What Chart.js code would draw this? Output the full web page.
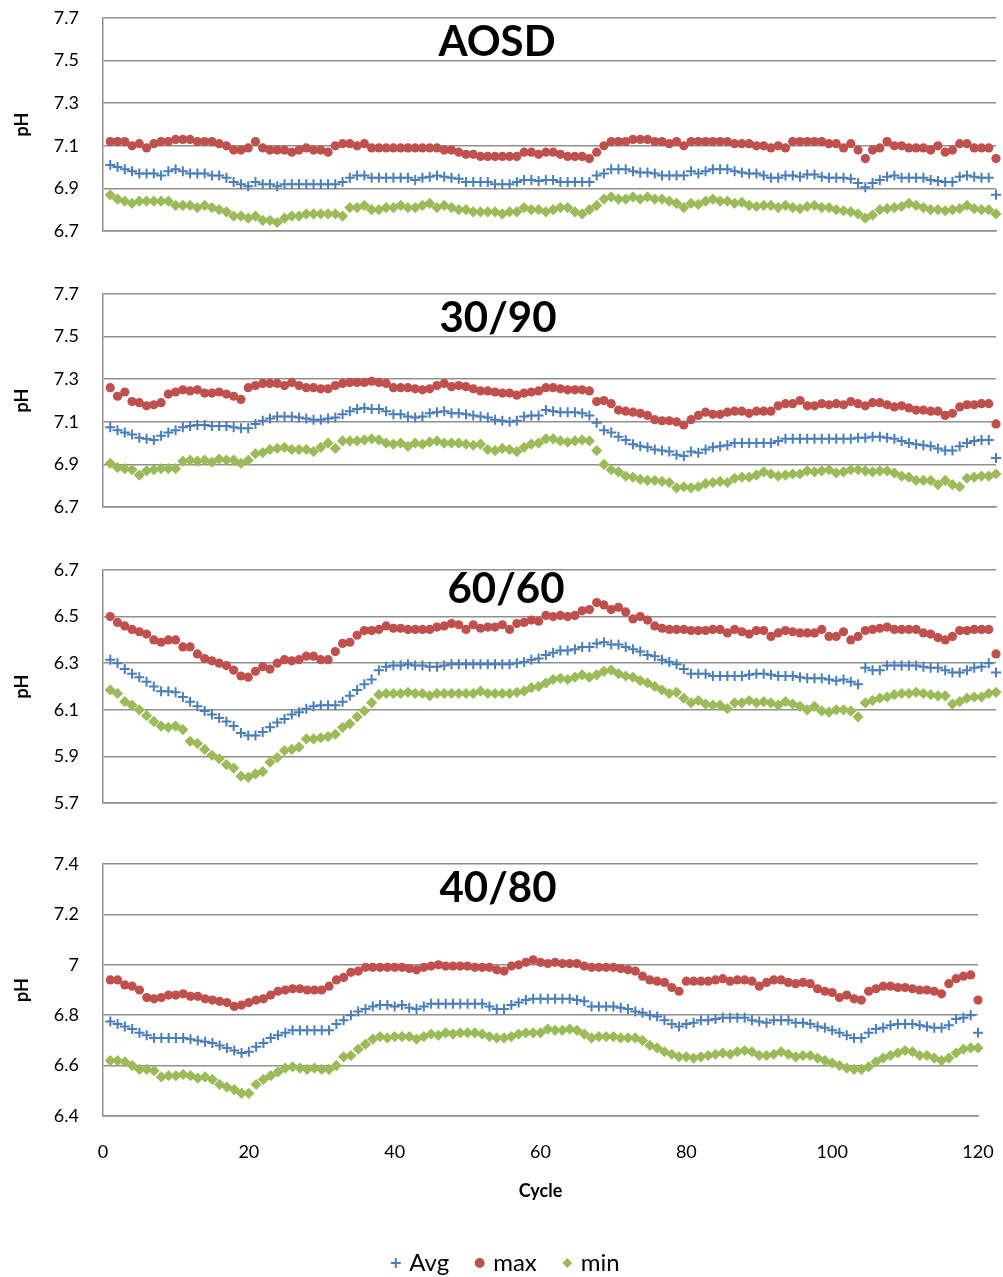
<!DOCTYPE html>
<html lang="en">
<head>
<meta charset="UTF-8">
<title>pH per cycle</title>
<script src="https://cdn.jsdelivr.net/npm/chart.js"></script>
<style>
  body { margin: 0; background: #fff; }
  #wrap { position: relative; width: 1003px; height: 1277px; overflow: hidden; }
  canvas { position: absolute; left: 0; }
  .ttl { position: absolute; font: bold 42px Lato, sans-serif; color: #000; transform: translate(-50%, -50%); white-space: nowrap; z-index: 2; }
</style>
</head>
<body>
<div id="wrap">
  <canvas id="c1" width="1003" height="251" style="top:0px"></canvas>
  <canvas id="c2" width="1003" height="257" style="top:270px"></canvas>
  <canvas id="c3" width="1003" height="277" style="top:546px"></canvas>
  <canvas id="c4" width="1039" height="445" style="top:840px"></canvas>
  <div class="ttl" style="left:497px;top:40px">AOSD</div>
  <div class="ttl" style="left:498px;top:316px">30/90</div>
  <div class="ttl" style="left:506px;top:587px">60/60</div>
  <div class="ttl" style="left:498px;top:886px">40/80</div>
</div>
<script>
// series names (legend)
const seriesNames = ['Avg', 'max', 'min'];

// AOSD, cycles 1-123
const avgAOSD = [7.01,7.00,6.99,6.98,6.97,6.97,6.97,6.96,6.98,6.99,
  6.98,6.97,6.97,6.97,6.96,6.96,6.95,6.93,6.92,6.91,
  6.93,6.92,6.92,6.91,6.92,6.92,6.92,6.92,6.92,6.92,
  6.92,6.92,6.93,6.95,6.96,6.96,6.95,6.95,6.95,6.95,
  6.95,6.95,6.94,6.95,6.955,6.96,6.955,6.95,6.945,6.93,
  6.93,6.93,6.93,6.92,6.92,6.92,6.93,6.94,6.94,6.935,
  6.94,6.94,6.93,6.93,6.93,6.93,6.93,6.96,6.97,6.99,
  6.99,6.99,6.98,6.975,6.975,6.97,6.96,6.96,6.96,6.96,
  6.98,6.97,6.98,6.99,6.99,6.99,6.98,6.975,6.97,6.97,
  6.96,6.95,6.95,6.96,6.96,6.955,6.965,6.965,6.955,6.95,
  6.95,6.95,6.945,6.925,6.905,6.925,6.94,6.955,6.96,6.95,
  6.95,6.95,6.95,6.94,6.935,6.93,6.93,6.955,6.96,6.955,
  6.95,6.95,6.87];
const maxAOSD = [7.12,7.12,7.12,7.10,7.11,7.09,7.11,7.12,7.12,7.13,
  7.13,7.13,7.12,7.12,7.12,7.11,7.10,7.08,7.08,7.09,
  7.12,7.09,7.08,7.08,7.08,7.07,7.08,7.09,7.08,7.08,
  7.07,7.10,7.11,7.11,7.10,7.11,7.09,7.09,7.09,7.09,
  7.09,7.09,7.09,7.09,7.09,7.09,7.08,7.08,7.07,7.06,
  7.06,7.05,7.05,7.05,7.05,7.05,7.05,7.07,7.07,7.06,
  7.07,7.07,7.06,7.05,7.05,7.05,7.04,7.07,7.10,7.12,
  7.12,7.12,7.13,7.13,7.13,7.12,7.12,7.11,7.12,7.10,
  7.12,7.12,7.12,7.12,7.12,7.12,7.11,7.11,7.11,7.10,
  7.10,7.09,7.10,7.09,7.12,7.12,7.12,7.12,7.12,7.11,
  7.11,7.09,7.11,7.08,7.04,7.08,7.09,7.12,7.10,7.10,
  7.09,7.09,7.09,7.08,7.10,7.07,7.08,7.11,7.11,7.09,
  7.09,7.09,7.04];
const minAOSD = [6.87,6.85,6.84,6.83,6.84,6.84,6.84,6.84,6.84,6.82,
  6.82,6.82,6.81,6.82,6.81,6.80,6.79,6.77,6.77,6.76,
  6.77,6.75,6.75,6.74,6.76,6.77,6.77,6.78,6.78,6.78,
  6.78,6.78,6.77,6.81,6.81,6.82,6.80,6.80,6.81,6.81,
  6.82,6.81,6.81,6.82,6.83,6.81,6.82,6.81,6.80,6.80,
  6.79,6.79,6.79,6.79,6.78,6.79,6.79,6.81,6.80,6.80,
  6.79,6.80,6.81,6.81,6.79,6.78,6.80,6.82,6.85,6.86,
  6.85,6.85,6.86,6.85,6.86,6.85,6.85,6.84,6.83,6.81,
  6.83,6.825,6.84,6.85,6.84,6.84,6.83,6.835,6.82,6.815,
  6.82,6.82,6.81,6.82,6.81,6.805,6.815,6.82,6.81,6.81,
  6.80,6.795,6.79,6.78,6.76,6.775,6.80,6.805,6.81,6.815,
  6.83,6.82,6.81,6.80,6.80,6.795,6.80,6.805,6.82,6.805,
  6.80,6.80,6.78];

// 30/90, cycles 1-123
const avg3090 = [7.075,7.06,7.05,7.04,7.025,7.02,7.015,7.035,7.05,7.06,
  7.075,7.08,7.085,7.085,7.08,7.08,7.08,7.075,7.07,7.07,
  7.09,7.105,7.115,7.125,7.125,7.125,7.12,7.115,7.11,7.11,
  7.115,7.12,7.135,7.15,7.16,7.165,7.16,7.16,7.15,7.135,
  7.135,7.125,7.12,7.125,7.14,7.145,7.15,7.14,7.14,7.135,
  7.13,7.125,7.12,7.11,7.105,7.10,7.105,7.125,7.13,7.13,
  7.155,7.15,7.145,7.145,7.145,7.14,7.13,7.095,7.06,7.05,
  7.03,7.015,6.995,6.985,6.98,6.97,6.965,6.96,6.945,6.94,
  6.96,6.955,6.97,6.98,6.985,6.99,7.0,7.0,7.0,7.0,
  7.0,7.0,7.01,7.02,7.02,7.02,7.02,7.02,7.02,7.02,
  7.02,7.02,7.02,7.025,7.025,7.03,7.03,7.025,7.02,7.01,
  7.0,6.995,6.99,6.985,6.975,6.965,6.965,6.985,7.0,7.01,
  7.015,7.015,6.93];
const max3090 = [7.26,7.22,7.24,7.195,7.19,7.175,7.18,7.19,7.23,7.24,
  7.25,7.245,7.25,7.235,7.235,7.24,7.23,7.22,7.205,7.26,
  7.27,7.28,7.28,7.28,7.27,7.285,7.27,7.26,7.26,7.255,
  7.255,7.27,7.28,7.285,7.285,7.285,7.29,7.285,7.28,7.26,
  7.26,7.26,7.255,7.25,7.255,7.27,7.28,7.265,7.27,7.265,
  7.255,7.245,7.245,7.24,7.235,7.235,7.225,7.235,7.24,7.245,
  7.26,7.26,7.255,7.25,7.25,7.25,7.245,7.195,7.20,7.185,
  7.155,7.15,7.145,7.14,7.13,7.11,7.105,7.105,7.10,7.085,
  7.11,7.13,7.145,7.135,7.135,7.145,7.15,7.15,7.14,7.15,
  7.15,7.15,7.175,7.185,7.185,7.20,7.175,7.175,7.185,7.18,
  7.185,7.18,7.195,7.185,7.175,7.19,7.19,7.18,7.17,7.175,
  7.165,7.155,7.155,7.15,7.15,7.13,7.14,7.17,7.18,7.18,
  7.185,7.185,7.09];
const min3090 = [6.905,6.885,6.88,6.875,6.85,6.87,6.875,6.88,6.88,6.88,
  6.915,6.92,6.915,6.92,6.91,6.925,6.92,6.92,6.905,6.92,
  6.95,6.955,6.97,6.975,6.98,6.97,6.97,6.97,6.96,6.98,
  7.0,6.975,7.01,7.01,7.01,7.015,7.02,7.015,7.0,6.995,
  7.0,6.985,7.0,6.995,7.005,7.01,7.0,7.0,7.0,6.995,
  6.99,6.995,6.97,6.965,6.975,6.97,6.96,6.98,6.995,7.0,
  7.02,7.02,7.01,7.005,7.01,7.015,7.01,6.965,6.90,6.875,
  6.865,6.845,6.84,6.83,6.825,6.825,6.82,6.815,6.79,6.795,
  6.79,6.795,6.81,6.815,6.82,6.815,6.835,6.84,6.84,6.85,
  6.865,6.855,6.845,6.85,6.855,6.855,6.87,6.865,6.87,6.875,
  6.86,6.865,6.875,6.875,6.87,6.865,6.87,6.87,6.86,6.845,
  6.84,6.825,6.825,6.825,6.805,6.825,6.805,6.795,6.835,6.84,
  6.845,6.845,6.855];

// 60/60, cycles 1-123
const avg6060 = [6.315,6.30,6.275,6.255,6.24,6.22,6.20,6.18,6.18,6.175,
  6.155,6.135,6.115,6.095,6.08,6.065,6.05,6.03,6.00,5.99,
  5.99,6.005,6.025,6.045,6.06,6.08,6.09,6.105,6.115,6.12,
  6.12,6.12,6.135,6.16,6.185,6.21,6.23,6.27,6.285,6.29,
  6.29,6.295,6.29,6.29,6.285,6.285,6.29,6.295,6.295,6.295,
  6.295,6.295,6.295,6.295,6.295,6.295,6.30,6.305,6.315,6.32,
  6.335,6.345,6.355,6.355,6.36,6.37,6.37,6.385,6.39,6.38,
  6.38,6.37,6.36,6.35,6.335,6.33,6.315,6.305,6.295,6.275,
  6.255,6.255,6.255,6.245,6.245,6.245,6.245,6.245,6.25,6.255,
  6.255,6.25,6.245,6.245,6.245,6.24,6.235,6.235,6.235,6.23,
  6.225,6.23,6.22,6.21,6.28,6.27,6.27,6.29,6.29,6.29,
  6.29,6.29,6.285,6.28,6.28,6.27,6.26,6.26,6.27,6.28,
  6.285,6.30,6.26];
const max6060 = [6.50,6.475,6.46,6.445,6.435,6.425,6.40,6.39,6.40,6.40,
  6.37,6.37,6.34,6.32,6.31,6.30,6.29,6.27,6.245,6.24,
  6.265,6.285,6.275,6.30,6.315,6.31,6.315,6.33,6.33,6.315,
  6.315,6.35,6.385,6.39,6.42,6.44,6.44,6.445,6.46,6.45,
  6.45,6.445,6.445,6.445,6.445,6.455,6.46,6.47,6.465,6.445,
  6.465,6.45,6.455,6.455,6.465,6.445,6.47,6.475,6.485,6.48,
  6.505,6.50,6.505,6.50,6.505,6.525,6.53,6.56,6.55,6.53,
  6.54,6.52,6.49,6.50,6.485,6.46,6.45,6.445,6.445,6.445,
  6.44,6.44,6.44,6.445,6.445,6.43,6.445,6.435,6.425,6.44,
  6.44,6.415,6.43,6.44,6.435,6.43,6.43,6.43,6.445,6.415,
  6.415,6.435,6.40,6.415,6.44,6.445,6.45,6.455,6.445,6.445,
  6.445,6.445,6.43,6.425,6.41,6.40,6.415,6.44,6.44,6.445,
  6.445,6.445,6.34];
const min6060 = [6.185,6.17,6.135,6.12,6.10,6.075,6.05,6.03,6.025,6.03,
  6.015,5.965,5.955,5.93,5.905,5.89,5.865,5.85,5.815,5.81,
  5.825,5.835,5.875,5.895,5.925,5.93,5.94,5.975,5.975,5.98,
  5.985,5.995,6.025,6.04,6.07,6.095,6.13,6.165,6.17,6.17,
  6.17,6.175,6.17,6.17,6.16,6.17,6.17,6.17,6.17,6.17,
  6.17,6.18,6.17,6.17,6.17,6.17,6.175,6.18,6.195,6.20,
  6.215,6.23,6.235,6.23,6.24,6.25,6.24,6.25,6.265,6.27,
  6.255,6.245,6.24,6.225,6.215,6.20,6.185,6.17,6.175,6.15,
  6.13,6.14,6.125,6.12,6.12,6.105,6.13,6.13,6.14,6.13,
  6.135,6.13,6.12,6.135,6.125,6.115,6.10,6.115,6.095,6.09,
  6.10,6.10,6.095,6.07,6.13,6.14,6.15,6.155,6.165,6.17,
  6.17,6.175,6.17,6.165,6.16,6.16,6.125,6.135,6.15,6.155,
  6.155,6.17,6.175];

// 40/80, cycles 1-120
const avg4080 = [6.775,6.765,6.755,6.745,6.73,6.72,6.71,6.71,6.71,6.71,
  6.71,6.705,6.70,6.695,6.69,6.68,6.67,6.66,6.65,6.655,
  6.675,6.69,6.71,6.72,6.73,6.74,6.74,6.74,6.74,6.74,
  6.74,6.765,6.78,6.80,6.815,6.825,6.835,6.84,6.84,6.835,
  6.84,6.83,6.825,6.835,6.845,6.845,6.845,6.845,6.845,6.845,
  6.845,6.845,6.835,6.825,6.825,6.84,6.85,6.86,6.865,6.865,
  6.865,6.865,6.865,6.865,6.86,6.855,6.835,6.835,6.835,6.835,
  6.83,6.825,6.815,6.81,6.80,6.795,6.78,6.765,6.755,6.765,
  6.77,6.78,6.78,6.785,6.79,6.79,6.79,6.79,6.78,6.775,
  6.77,6.78,6.78,6.78,6.77,6.77,6.765,6.755,6.75,6.74,
  6.73,6.72,6.71,6.71,6.73,6.745,6.75,6.76,6.765,6.765,
  6.765,6.76,6.755,6.75,6.75,6.76,6.785,6.79,6.80,6.73];
const max4080 = [6.94,6.94,6.92,6.915,6.90,6.87,6.865,6.87,6.88,6.88,
  6.885,6.875,6.875,6.865,6.86,6.855,6.85,6.835,6.84,6.85,
  6.86,6.865,6.88,6.895,6.90,6.905,6.905,6.90,6.90,6.90,
  6.915,6.94,6.95,6.97,6.975,6.99,6.99,6.99,6.99,6.99,
  6.99,6.985,6.98,6.99,6.995,7.0,6.995,6.995,6.995,6.995,
  6.99,6.99,6.99,6.98,6.975,6.995,7.0,7.01,7.02,7.01,
  7.005,7.01,7.005,7.005,7.005,6.995,6.99,6.99,6.99,6.99,
  6.985,6.98,6.975,6.955,6.94,6.935,6.93,6.91,6.895,6.935,
  6.935,6.935,6.935,6.94,6.945,6.935,6.94,6.94,6.935,6.915,
  6.93,6.94,6.94,6.93,6.925,6.93,6.925,6.905,6.895,6.89,
  6.87,6.88,6.865,6.86,6.895,6.905,6.915,6.915,6.91,6.91,
  6.905,6.90,6.90,6.895,6.885,6.925,6.945,6.955,6.96,6.86];
const min4080 = [6.62,6.62,6.615,6.60,6.585,6.585,6.58,6.555,6.56,6.56,
  6.565,6.56,6.55,6.555,6.545,6.525,6.515,6.505,6.49,6.49,
  6.525,6.545,6.56,6.575,6.59,6.595,6.59,6.585,6.59,6.585,
  6.585,6.60,6.635,6.64,6.665,6.685,6.705,6.715,6.71,6.715,
  6.715,6.715,6.705,6.715,6.725,6.72,6.73,6.725,6.73,6.73,
  6.73,6.725,6.715,6.71,6.71,6.715,6.725,6.73,6.73,6.73,
  6.745,6.74,6.74,6.745,6.74,6.725,6.71,6.715,6.715,6.715,
  6.71,6.71,6.71,6.70,6.68,6.67,6.655,6.645,6.635,6.635,
  6.63,6.635,6.64,6.645,6.65,6.645,6.655,6.66,6.655,6.64,
  6.64,6.645,6.655,6.645,6.635,6.64,6.64,6.63,6.62,6.61,
  6.60,6.59,6.585,6.585,6.595,6.615,6.63,6.64,6.65,6.66,
  6.655,6.64,6.64,6.63,6.62,6.63,6.65,6.665,6.67,6.67];

const grey = '#8f8f8f';
const font = 'Lato, sans-serif';

function toPoints(arr) {
  return arr.map((v, i) => ({ x: i + 1, y: v }));
}

function makePanel(id, series, yMin, yMax, xMax, opts) {
  const [avg, max, min] = series;
  const last = !!opts.last;
  new Chart(document.getElementById(id), {
    type: 'scatter',
    data: {
      datasets: [
        { label: seriesNames[0], data: toPoints(avg), pointStyle: 'cross', pointRadius: 5, pointBorderWidth: 2,
          borderColor: '#4A7EBB', backgroundColor: '#4A7EBB', borderWidth: 2, clip: false },
        { label: seriesNames[1], data: toPoints(max), pointStyle: 'circle', pointRadius: 4.6, pointBorderWidth: 0,
          borderColor: '#C0504D', backgroundColor: '#C0504D', borderWidth: 0, clip: false },
        { label: seriesNames[2], data: toPoints(min), pointStyle: 'rectRot', pointRadius: 5.6, pointBorderWidth: 0,
          borderColor: '#9BBB59', backgroundColor: '#9BBB59', borderWidth: 0, clip: false }
      ]
    },
    options: {
      responsive: false,
      animation: false,
      events: [],
      layout: { padding: { top: opts.padTop, right: opts.padRight, left: 0, bottom: 0 } },
      plugins: {
        tooltip: { enabled: false },
        legend: {
          display: last,
          position: 'bottom',
          labels: { usePointStyle: true, boxWidth: 3, boxHeight: 7, padding: 29,
                    color: '#000', font: { family: font, size: 24 } }
        }
      },
      scales: {
        x: {
          type: 'linear', min: 0, max: xMax,
          grid: { display: false },
          border: { color: grey, width: 1.5 },
          ticks: { display: last, stepSize: 20, padding: 17, color: '#000', font: { family: font, size: 18 }, maxRotation: 0 },
          title: { display: last, text: 'Cycle', color: '#000', font: { family: font, size: 18, weight: 'bold' }, padding: { bottom: 20 } },
          afterFit: s => { s.height = opts.xHeight; s.paddingLeft = 0; s.paddingRight = opts.axisRight || 0; }
        },
        y: {
          min: yMin, max: yMax,
          grid: { color: grey, lineWidth: 1.5, drawTicks: false },
          border: { color: grey, width: 1.5 },
          ticks: { stepSize: 0.2, padding: 24, color: '#000', font: { family: font, size: 18 },
                   callback: v => String(+v.toFixed(1)) },
          title: { display: true, text: 'pH', color: '#000', font: { family: font, size: 18, weight: 'bold' }, padding: { top: 11 } },
          afterFit: s => { s.width = 103; s.paddingTop = 0; s.paddingBottom = 0; }
        }
      }
    }
  });
}

makePanel('c1', [avgAOSD, maxAOSD, minAOSD], 6.7, 7.7, 123, { padTop: 18, padRight: 5, xHeight: 20 });
makePanel('c2', [avg3090, max3090, min3090], 6.7, 7.7, 123, { padTop: 24, padRight: 5, xHeight: 20 });
makePanel('c3', [avg6060, max6060, min6060], 5.7, 6.7, 123, { padTop: 24, padRight: 5, xHeight: 20 });
// bottom panel canvas is a bit wider than the page: the legend is centred on it, the plot keeps its right edge
makePanel('c4', [avg4080, max4080, min4080], 6.4, 7.4, 120, { padTop: 24, padRight: 25, axisRight: 61, xHeight: 106, last: true });
</script>
</body>
</html>
